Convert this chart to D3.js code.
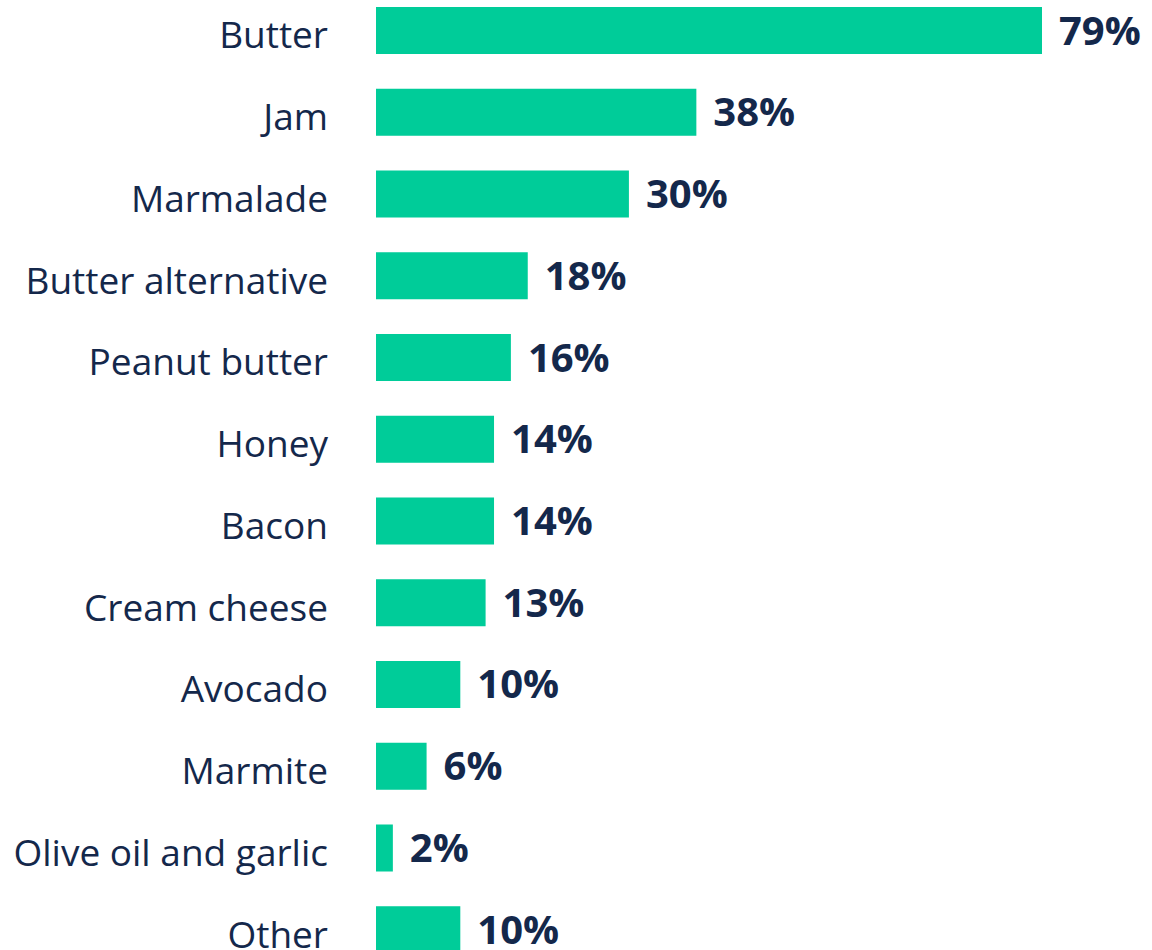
<!DOCTYPE html>
<html>
<head>
<meta charset="utf-8">
<script src="https://cdn.jsdelivr.net/npm/d3@7"></script>
<style>
  body { margin: 0; background: #fff; }
  svg { display: block; }
</style>
</head>
<body>
<script>
var categories = ['Butter', 'Jam', 'Marmalade', 'Butter alternative', 'Peanut butter', 'Honey',
  'Bacon', 'Cream cheese', 'Avocado', 'Marmite', 'Olive oil and garlic', 'Other'];
var values = [79, 38, 30, 18, 16, 14, 14, 13, 10, 6, 2, 10];

var width = 1152;
var height = 950;
var barColor = '#00cc99';
var textColor = '#14284b';
var fontFamily = '"Open Sans", "Noto Sans", sans-serif';

var svg = d3.select('body')
  .append('svg')
  .attr('width', width)
  .attr('height', height);

var x = d3.scaleLinear()
  .domain([0, 79])
  .range([376, 1042]);

var y = d3.scaleBand()
  .domain(categories)
  .range([7, 953.25])
  .paddingInner(0.425)
  .paddingOuter(0);

var rows = svg.selectAll('g.row')
  .data(categories)
  .enter()
  .append('g')
  .attr('class', 'row');

rows.append('rect')
  .attr('x', x(0))
  .attr('y', function(d) { return y(d); })
  .attr('width', function(d, i) { return x(values[i]) - x(0); })
  .attr('height', y.bandwidth())
  .style('fill', barColor);

// category names, sitting a touch below the bar centre like the original
rows.append('text')
  .attr('x', 328)
  .attr('y', function(d) { return y(d) + y.bandwidth() / 2 + 5; })
  .attr('dy', '0.35em')
  .attr('text-anchor', 'end')
  .style('font-family', fontFamily)
  .style('font-size', '37px')
  .style('fill', textColor)
  .text(function(d) { return d; });

rows.append('text')
  .attr('x', function(d, i) { return x(values[i]) + 17; })
  .attr('y', function(d) { return y(d) + y.bandwidth() / 2; })
  .attr('dy', '0.35em')
  .style('font-family', fontFamily)
  .style('font-size', '40px')
  .style('font-weight', 'bold')
  .style('fill', textColor)
  .text(function(d, i) { return values[i] + '%'; });
</script>
</body>
</html>
